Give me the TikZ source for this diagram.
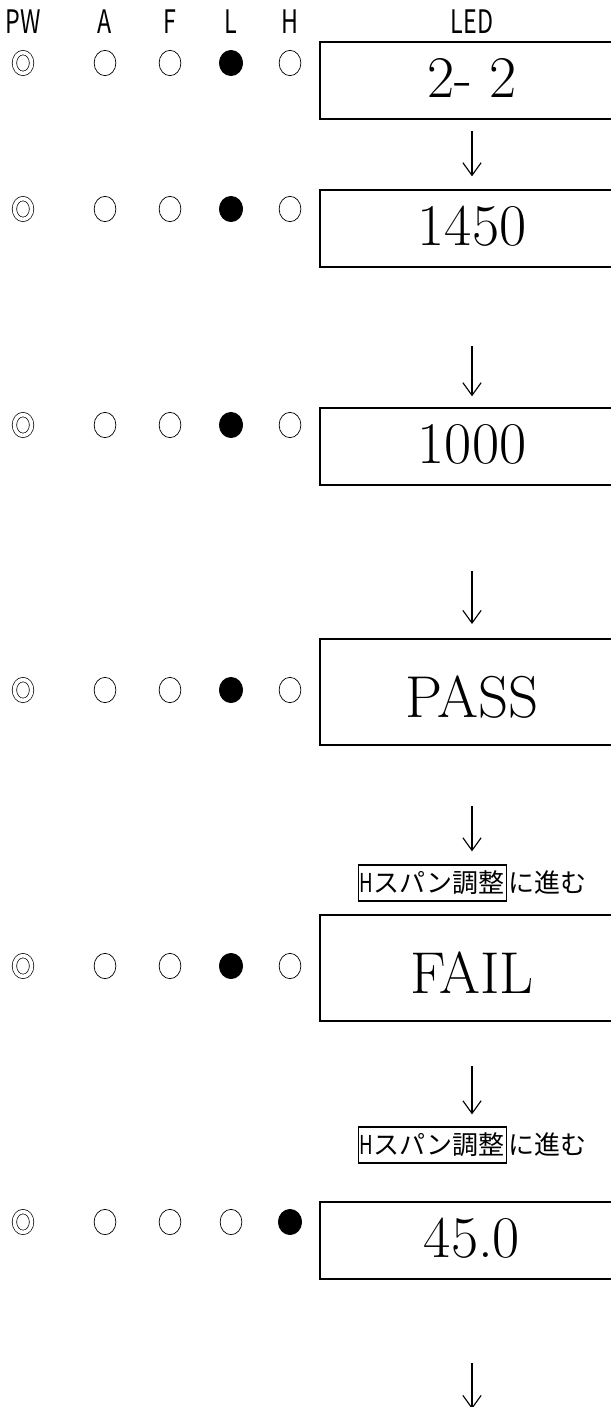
\documentclass[tikz,border=0pt]{standalone}
\usepackage{fontspec}
\usepackage{graphicx}
\newfontfamily\jpfont{Noto Sans CJK JP}
\usetikzlibrary{shapes.geometric,arrows.meta,positioning}

\tikzset{
  ledbox/.style={draw, line width=1.3pt, inner sep=0pt, minimum width=216pt,
    text height=39pt, text depth=15.6pt, font=\fontsize{42}{46}\selectfont, anchor=base},
  tallbox/.style={ledbox, text height=55.5pt, text depth=20pt},
  lampoff/.style={draw, ellipse, line width=0.5pt, inner sep=0pt,
    minimum width=15.5pt, minimum height=18pt},
  lampon/.style={lampoff, fill=black, minimum width=16.6pt},
  pwlamp/.style={lampoff, double, double distance=2.6pt,
    minimum width=12.2pt, minimum height=14.8pt},
  hdr/.style={font=\jpfont\fontsize{23}{26}\selectfont, xscale=0.72, transform shape},
  flow/.style={-{Straight Barb[length=9pt,width=13pt]}, line width=0.8pt},
  hop/.style={draw, line width=1pt, inner xsep=1pt, inner ysep=0pt,
    minimum height=25.6pt, font=\jpfont\fontsize{18.5}{20}\selectfont},
  hoptext/.style={inner sep=0pt, font=\jpfont\fontsize{18.5}{20}\selectfont},
}

\begin{document}
\begin{tikzpicture}[x=0.025cm, y=-0.025cm]
\useasboundingbox (0,0) rectangle (611,1407);

% header
\node[hdr] (hPW) at (23,22) {PW};
\node[hdr] (hA) at (105,22) {A};
\node[hdr] (hF) at (170,22) {F};
\node[hdr] (hL) at (231,22) {L};
\node[hdr] (hH) at (290,22) {H};
\node[hdr] (hLED) at (472,22) {LED};

% lamps, one row per step
\foreach \r/\y/\k in {1/63/4,2/209/4,3/425/4,4/690/4,5/966/4,6/1222/5} {
  \node[pwlamp] (pw\r) at (23,\y) {};
  \foreach \x [count=\i from 2] in {105,170,231,290} {
    \ifnum\i=\k
      \node[lampon] (lamp\r-\i) at (\x,\y) {};
    \else
      \node[lampoff] (lamp\r-\i) at (\x,\y) {};
    \fi
  }
}

% LED display
\node[ledbox] (b1) at (472,97) {2- 2};
\node[ledbox] (b2) at (472,245) {1450};
\node[ledbox] (b3) at (472,463) {1000};
\node[tallbox] (b4) at (472,717) {PASS};
\node[tallbox] (b5) at (472,993) {FAIL};
\node[ledbox] (b6) at (472,1257) {45.0};

% jump notes
\node[hop, anchor=east] (hop1) at (507,883) {\scalebox{.72}[1]{H}スパン調整};
\node[hoptext, right=1pt of hop1] (go1) {に進む};
\node[hop, anchor=east] (hop2) at (507,1145) {\scalebox{.72}[1]{H}スパン調整};
\node[hoptext, right=1pt of hop2] (go2) {に進む};
\coordinate (tail) at (472,1409);

% arrows
\draw[flow, shorten <=7.8pt, shorten >=9.2pt] (b1.south) -- (b2.north);
\draw[flow, shorten <=55.5pt, shorten >=7.8pt] (b2.south) -- (b3.north);
\draw[flow, shorten <=60.5pt, shorten >=10pt] (b3.south) -- (b4.north);
\draw[flow, shorten <=42.7pt, shorten >=9.2pt] (b4.south) -- (b4.south |- hop1.north);
\draw[flow, shorten <=31.3pt, shorten >=8.5pt] (b5.south) -- (b5.south |- hop2.north);
\draw[flow, shorten <=59pt] (b6.south) -- (tail);
\end{tikzpicture}
\end{document}
